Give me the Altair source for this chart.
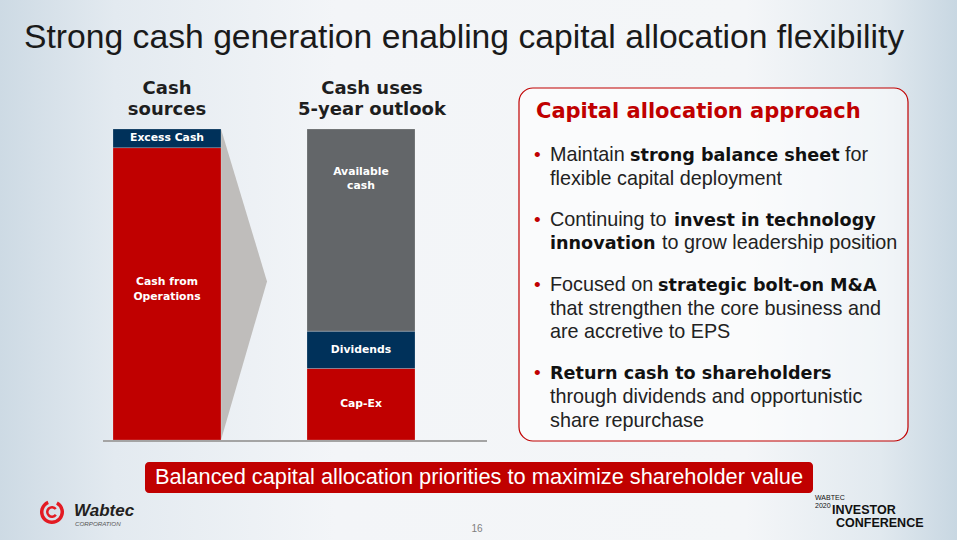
import altair as alt
import pandas as pd

# ---------------- data ----------------
TITLE = "Strong cash generation enabling capital allocation flexibility"
BAR_GROUPS = ["Cash sources", "Cash uses"]
BAR_HEADERS = [["Cash", "sources"], ["Cash uses", "5-year outlook"]]
SEGMENTS = ["Cash from Operations", "Excess Cash", "Cap-Ex", "Dividends", "Available cash"]
SEG_GROUP = ["Cash sources", "Cash sources", "Cash uses", "Cash uses", "Cash uses"]
SEG_VALUES = [94, 6, 23, 12, 65]
SEG_LABELS = [["Cash from", "Operations"], ["Excess Cash"], ["Cap-Ex"], ["Dividends"], ["Available", "cash"]]
SEG_COLORS = ["#c00000", "#00315a", "#c00000", "#00315a", "#636669"]

PANEL_TITLE = "Capital allocation approach"
BULLETS = [
    [[("Maintain", False), ("strong balance sheet", True), ("for", False)],
     [("flexible capital deployment", False)]],
    [[("Continuing to", False), ("invest in technology", True)],
     [("innovation", True), ("to grow leadership position", False)]],
    [[("Focused on", False), ("strategic bolt-on M&A", True)],
     [("that strengthen the core business and", False)],
     [("are accretive to EPS", False)]],
    [[("Return cash to shareholders", True)],
     [("through dividends and opportunistic", False)],
     [("share repurchase", False)]],
]
BANNER = "Balanced capital allocation priorities to maximize shareholder value"
PAGE = "16"

# ---------------- layout ----------------
W, H = 957, 540
SANS = "Liberation Sans"
BOLD = "DejaVu Sans"
RED = "#c00000"
DARK = "#1e1e1e"

# x start of each text run of each bullet line (pixels), and line baselines
SEG_X = [
    [[550, 630, 845], [550]],
    [[550, 674], [550, 662]],
    [[550, 658], [550], [550]],
    [[550], [550], [550]],
]
LINE_Y = [[161, 185], [226, 249], [291, 315, 338], [379, 403, 427]]

rows = []
for grp in BAR_GROUPS:
    acc = 0
    for s, g, v, lab in zip(SEGMENTS, SEG_GROUP, SEG_VALUES, SEG_LABELS):
        if g != grp:
            continue
        rows.append({"group": g, "segment": s, "start": acc, "end": acc + v, "label": lab})
        acc += v
df = pd.DataFrame(rows)

chev = pd.DataFrame({"t": [0, 1], "top": [100, 51], "bot": [0, 51]})
ONE = pd.DataFrame({"k": [0]})


def xscale():
    return alt.Scale(type="band", domain=BAR_GROUPS, range=[113, 415], paddingInner=0.4433, paddingOuter=0)


yscale = alt.Scale(domain=[0, 100], range=[440, 129], nice=False, zero=False)


def text_layer(content, x, y, size, color=DARK, font=SANS, weight="normal", align="left",
               style="normal", line_height=None, baseline="alphabetic", opacity=1):
    kw = dict(x=x, y=y, fontSize=size, color=color, font=font, fontWeight=weight,
              align=align, baseline=baseline, fontStyle=style, opacity=opacity)
    if line_height:
        kw["lineHeight"] = line_height
    return alt.Chart(ONE).mark_text(**kw).encode(text=alt.value(content))


layers = []

# background gradient
bg = alt.Chart(ONE).mark_rect(
    color=alt.LinearGradient(
        gradient="linear", x1=0, y1=0, x2=1, y2=0,
        stops=[alt.GradientStop(color="#cddae4", offset=0),
               alt.GradientStop(color="#e3eaf0", offset=0.12),
               alt.GradientStop(color="#f3f5f8", offset=0.35),
               alt.GradientStop(color="#f4f6f8", offset=0.78),
               alt.GradientStop(color="#e1e9ef", offset=0.92),
               alt.GradientStop(color="#c8d7e2", offset=1)])
).encode(x=alt.value(0), x2=alt.value(W), y=alt.value(0), y2=alt.value(H))
layers.append(bg)

# title
layers.append(text_layer(TITLE, 24, 48, 33.7, color="#1a1a1a"))

# headers above bars
layers.append(text_layer(BAR_HEADERS[0], 167, 94, 18, font=BOLD, weight="bold", align="center", line_height=21))
layers.append(text_layer(BAR_HEADERS[1], 372, 94, 18, font=BOLD, weight="bold", align="center", line_height=21))

# chevron
layers.append(alt.Chart(chev).mark_area(color="#bfbdbb").encode(
    x=alt.X("t:Q", scale=alt.Scale(domain=[0, 1], range=[221, 267]), axis=None),
    y=alt.Y("top:Q", scale=yscale, axis=None),
    y2="bot:Q"))

# bars
layers.append(alt.Chart(df).mark_bar(stroke="#ffffff", strokeOpacity=0.25, strokeWidth=0.8).encode(
    x=alt.X("group:N", scale=xscale(), axis=None, sort=BAR_GROUPS),
    y=alt.Y("start:Q", scale=yscale, axis=None),
    y2="end:Q",
    color=alt.Color("segment:N", scale=alt.Scale(domain=SEGMENTS, range=SEG_COLORS), legend=None)))

# bar labels (first line position; multi-line blocks shifted up to stay centred)
layers.append(alt.Chart(df).transform_calculate(
    lab="datum.segment == 'Available cash' ? datum.end - 13.8 : "
        "(datum.start + datum.end) / 2 + (length(datum.label) - 1) * 3.8"
).mark_text(color="white", font=BOLD, fontWeight="bold", fontSize=10.8, lineHeight=14.5,
            baseline="middle", align="center").encode(
    x=alt.X("group:N", scale=xscale(), axis=None, sort=BAR_GROUPS, bandPosition=0.5),
    y=alt.Y("lab:Q", scale=yscale, axis=None),
    text=alt.Text("label")))

# baseline
layers.append(alt.Chart(ONE).mark_rule(color="#a4a4a4", strokeWidth=2).encode(
    x=alt.value(103), x2=alt.value(487), y=alt.value(441)))

# panel
layers.append(alt.Chart(ONE).mark_rect(cornerRadius=14, stroke=RED, strokeWidth=1.2,
                                       fill="white", fillOpacity=0.55).encode(
    x=alt.value(519), x2=alt.value(908), y=alt.value(88), y2=alt.value(441)))
layers.append(text_layer(PANEL_TITLE, 536, 118, 21, color=RED, font=BOLD, weight="bold"))

for bi, bullet in enumerate(BULLETS):
    layers.append(text_layer("•", 534, LINE_Y[bi][0], 19, color=RED))
    for li, line in enumerate(bullet):
        for si, (seg, bold) in enumerate(line):
            x = SEG_X[bi][li][si]
            if bold:
                layers.append(text_layer(seg, x, LINE_Y[bi][li], 17.6, color="#111111", font=BOLD, weight="bold"))
            else:
                layers.append(text_layer(seg, x, LINE_Y[bi][li], 19.8, color="#222222"))

# banner
layers.append(alt.Chart(ONE).mark_rect(cornerRadius=4, fill=RED).encode(
    x=alt.value(145), x2=alt.value(813), y=alt.value(462), y2=alt.value(493)))
layers.append(text_layer(BANNER, 479, 484, 21.8, color="white", align="center"))

# page number
layers.append(text_layer(PAGE, 477, 532, 10, color="#7f7f7f", align="center"))

# Wabtec logo
layers.append(alt.Chart(ONE).mark_arc(radius=12, radius2=8.5, theta=0.5, theta2=5.9, color="#e31b23").encode(
    x=alt.value(52), y=alt.value(512)))
layers.append(alt.Chart(ONE).mark_arc(radius=6, radius2=3.5, theta=2.2, theta2=7.2, color="#e31b23").encode(
    x=alt.value(52), y=alt.value(512)))
layers.append(text_layer("Wabtec", 74, 516, 17, color="#231f20", weight="bold", style="italic"))
layers.append(text_layer("CORPORATION", 75, 526, 6.2, color="#555555", style="italic"))

# conference logo
layers.append(text_layer("WABTEC", 815, 500, 7, color="#111111"))
layers.append(text_layer("2020", 815, 508, 7, color="#111111"))
layers.append(text_layer("INVESTOR", 832, 513.5, 12.5, color="#111111", weight="bold"))
layers.append(text_layer("CONFERENCE", 836, 526.5, 12.5, color="#111111", weight="bold"))

chart = alt.layer(*layers).resolve_scale(x="independent", y="independent").properties(
    width=W, height=H, autosize=alt.AutoSizeParams(type="none"), padding=0
).configure_view(stroke=None).configure(background="#f3f5f8")

chart.save("out.html", embed_options={"renderer": "svg", "actions": False})
